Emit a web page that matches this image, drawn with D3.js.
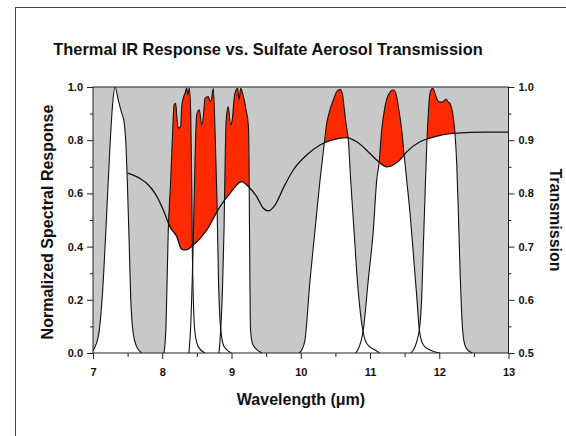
<!DOCTYPE html>
<html>
<head>
<meta charset="utf-8">
<script src="https://cdn.jsdelivr.net/npm/d3@7"></script>
<style>
  body { margin: 0; background: #fff; }
  svg text { font-family: Arial, "Liberation Sans", sans-serif; font-weight: bold; fill: #111; }
</style>
</head>
<body>
<div id="chart"></div>
<script>
// filter spectral responses, [wavelength um, normalized response]
const filter1 = [[6.98,0],[7.004,0.011],[7.077,0.062],[7.149,0.274],[7.198,0.526],[7.245,0.776],[7.284,0.938],[7.318,1.0],
  [7.365,0.951],[7.414,0.902],[7.448,0.87],[7.477,0.776],[7.495,0.65],[7.524,0.399],[7.544,0.211],[7.582,0.073],[7.631,0.023],[7.703,0]];
const filter2 = [[8.025,0],[8.054,0.1],[8.087,0.462],[8.122,0.65],[8.151,0.838],[8.17,0.932],[8.194,0.939],[8.213,0.88],[8.232,0.845],
  [8.266,0.851],[8.281,0.926],[8.304,0.958],[8.329,0.977],[8.353,0.996],[8.368,0.97],[8.391,0.996],[8.411,0.901],[8.425,0.65],
  [8.434,0.399],[8.448,0.211],[8.473,0.075],[8.521,0.023],[8.617,0]];
const filter3 = [[8.386,0],[8.408,0.086],[8.448,0.425],[8.473,0.726],[8.497,0.895],[8.535,0.914],[8.57,0.857],[8.596,0.895],
  [8.617,0.958],[8.665,0.964],[8.69,0.945],[8.711,0.955],[8.737,0.995],[8.762,0.838],[8.79,0.575],[8.812,0.274],[8.841,0.1],
  [8.89,0.025],[9.0,0]];
const filter4 = [[8.82,0],[8.84,0.07],[8.87,0.24],[8.892,0.462],[8.906,0.688],[8.92,0.857],[8.939,0.914],[8.954,0.926],[8.986,0.857],
  [9.014,0.883],[9.036,0.951],[9.065,0.989],[9.09,0.995],[9.108,0.951],[9.133,0.995],[9.166,0.97],[9.21,0.914],[9.243,0.857],
  [9.253,0.726],[9.26,0.462],[9.267,0.237],[9.275,0.086],[9.31,0.03],[9.44,0]];
const filter5 = [[9.98,0],[10.014,0.011],[10.061,0.049],[10.134,0.274],[10.206,0.462],[10.278,0.65],[10.34,0.788],[10.375,0.863],
  [10.422,0.914],[10.47,0.951],[10.519,0.982],[10.567,0.991],[10.6,0.976],[10.625,0.926],[10.653,0.863],[10.687,0.801],
  [10.721,0.65],[10.769,0.462],[10.817,0.274],[10.88,0.112],[10.952,0.036],[11.072,0.011],[11.14,0]];
const filter6 = [[10.79,0],[10.822,0.011],[10.903,0.086],[10.975,0.274],[11.048,0.462],[11.097,0.65],[11.13,0.713],[11.169,0.838],
  [11.217,0.926],[11.264,0.97],[11.336,0.989],[11.375,0.975],[11.409,0.926],[11.458,0.838],[11.491,0.75],[11.53,0.65],
  [11.578,0.526],[11.625,0.376],[11.675,0.213],[11.712,0.088],[11.77,0.03],[11.866,0.011],[12.01,0]];
const filter7 = [[11.59,0],[11.625,0.011],[11.712,0.086],[11.747,0.211],[11.77,0.399],[11.794,0.587],[11.819,0.775],[11.842,0.901],
  [11.866,0.976],[11.905,0.995],[11.939,0.976],[11.972,0.951],[12.011,0.943],[12.058,0.945],[12.097,0.955],[12.126,0.944],
  [12.155,0.938],[12.194,0.901],[12.227,0.826],[12.252,0.713],[12.275,0.537],[12.3,0.311],[12.323,0.15],[12.347,0.061],
  [12.386,0.02],[12.473,0]];
const filters = [filter1, filter2, filter3, filter4, filter5, filter6, filter7];

// sulfate aerosol transmission, [wavelength um, transmission]
const transmission = [[7.498,0.838],[7.679,0.828],[7.775,0.819],[7.895,0.8],[8.015,0.769],[8.112,0.737],[8.209,0.719],
  [8.281,0.695],[8.343,0.694],[8.448,0.703],[8.642,0.731],[8.834,0.775],[8.978,0.8],[9.147,0.822],[9.243,0.813],[9.364,0.794],
  [9.459,0.772],[9.531,0.767],[9.628,0.778],[9.748,0.81],[9.892,0.844],[10.086,0.872],[10.278,0.891],[10.422,0.899],
  [10.664,0.905],[10.808,0.897],[11.0,0.875],[11.12,0.86],[11.241,0.85],[11.433,0.863],[11.53,0.878],[11.722,0.897],
  [11.866,0.904],[12.203,0.913],[12.685,0.915],[12.997,0.915]];

const xMajor = [7, 8, 9, 10, 11, 12, 13];
const xMinor = [7.5, 8.5, 9.5, 10.5, 11.5, 12.5];
const leftMajor = [0, 0.2, 0.4, 0.6, 0.8, 1.0];
const leftMinor = [0.1, 0.3, 0.5, 0.7, 0.9];
const rightMajor = [0.5, 0.6, 0.7, 0.8, 0.9, 1.0];
const rightMinor = [0.55, 0.65, 0.75, 0.85, 0.95];

const width = 566, height = 436;
const svg = d3.select('#chart').append('svg')
  .attr('width', width)
  .attr('height', height);

// page border lines
svg.append('line').attr('x1', 15).attr('x2', width).attr('y1', 7.5).attr('y2', 7.5)
  .attr('stroke', '#444').attr('stroke-width', 1);
svg.append('line').attr('x1', 15.5).attr('x2', 15.5).attr('y1', 7).attr('y2', height)
  .attr('stroke', '#444').attr('stroke-width', 1);

const x = d3.scaleLinear().domain([7, 13]).range([93, 508.5]);
const yL = d3.scaleLinear().domain([0, 1]).range([353, 87]);
const yR = d3.scaleLinear().domain([0.5, 1]).range([353, 87]);

const defs = svg.append('defs');
defs.append('clipPath').attr('id', 'plot')
  .append('rect').attr('x', x(7)).attr('y', yL(1)).attr('width', x(13) - x(7)).attr('height', yL(0) - yL(1));

const filterArea = d3.area().curve(d3.curveMonotoneX)
  .x(d => x(d[0])).y0(yL(0)).y1(d => yL(d[1]));
const filterLine = d3.line().curve(d3.curveMonotoneX)
  .x(d => x(d[0])).y(d => yL(d[1]));
const transLine = d3.line().curve(d3.curveMonotoneX)
  .x(d => x(d[0])).y(d => yR(d[1]));
const aboveTrans = d3.area().curve(d3.curveMonotoneX)
  .x(d => x(d[0])).y0(d => yR(d[1])).y1(yL(1) - 2);

// union of filter areas, used to clip the red part
defs.append('clipPath').attr('id', 'filters')
  .selectAll('path').data(filters).enter().append('path')
  .attr('d', filterArea);

const plot = svg.append('g').attr('clip-path', 'url(#plot)');

plot.append('rect')
  .attr('x', x(7)).attr('y', yL(1)).attr('width', x(13) - x(7)).attr('height', yL(0) - yL(1))
  .attr('fill', '#c8c8c8');

plot.selectAll('path.fill').data(filters).enter().append('path')
  .attr('class', 'fill')
  .attr('d', filterArea)
  .attr('fill', '#fff');

plot.append('g').attr('clip-path', 'url(#filters)')
  .append('path')
  .datum(transmission)
  .attr('d', aboveTrans)
  .attr('fill', '#ff2a00');

plot.selectAll('path.outline').data(filters).enter().append('path')
  .attr('class', 'outline')
  .attr('d', filterLine)
  .attr('fill', 'none')
  .attr('stroke', '#111')
  .attr('stroke-width', 1.1);

plot.append('path')
  .datum(transmission)
  .attr('d', transLine)
  .attr('fill', 'none')
  .attr('stroke', '#111')
  .attr('stroke-width', 1.3);

// frame
svg.append('rect')
  .attr('x', x(7)).attr('y', yL(1)).attr('width', x(13) - x(7)).attr('height', yL(0) - yL(1))
  .attr('fill', 'none').attr('stroke', '#222').attr('stroke-width', 1);

// axes
function styleAxis(g) {
  g.select('.domain').remove();
  g.selectAll('.tick line').attr('stroke', '#222');
  g.selectAll('.tick text').attr('font-size', 11).style('fill', '#111');
}
svg.append('g').attr('transform', `translate(0,${yL(0)})`)
  .call(d3.axisBottom(x).tickValues(xMajor).tickFormat(d3.format('d')).tickSize(6).tickPadding(9))
  .call(styleAxis);
svg.append('g').attr('transform', `translate(0,${yL(0)})`)
  .call(d3.axisBottom(x).tickValues(xMinor).tickFormat('').tickSize(4))
  .call(styleAxis);
svg.append('g').attr('transform', `translate(${x(7)},0)`)
  .call(d3.axisLeft(yL).tickValues(leftMajor).tickFormat(d3.format('.1f')).tickSize(6).tickPadding(4))
  .call(styleAxis);
svg.append('g').attr('transform', `translate(${x(7)},0)`)
  .call(d3.axisLeft(yL).tickValues(leftMinor).tickFormat('').tickSize(3))
  .call(styleAxis);
svg.append('g').attr('transform', `translate(${x(13)},0)`)
  .call(d3.axisRight(yR).tickValues(rightMajor).tickFormat(d3.format('.1f')).tickSize(6).tickPadding(4))
  .call(styleAxis);
svg.append('g').attr('transform', `translate(${x(13)},0)`)
  .call(d3.axisRight(yR).tickValues(rightMinor).tickFormat('').tickSize(3))
  .call(styleAxis);

// titles
svg.append('text')
  .attr('x', 268).attr('y', 55)
  .attr('text-anchor', 'middle')
  .attr('font-size', 16.4)
  .text('Thermal IR Response vs. Sulfate Aerosol Transmission');
svg.append('text')
  .attr('x', 301).attr('y', 405)
  .attr('text-anchor', 'middle')
  .attr('font-size', 16)
  .text('Wavelength (μm)');
svg.append('text')
  .attr('transform', 'translate(53,222) rotate(-90)')
  .attr('text-anchor', 'middle')
  .attr('font-size', 16)
  .text('Normalized Spectral Response');
svg.append('text')
  .attr('transform', 'translate(550,220) rotate(90)')
  .attr('text-anchor', 'middle')
  .attr('font-size', 16)
  .text('Transmission');
</script>
</body>
</html>
